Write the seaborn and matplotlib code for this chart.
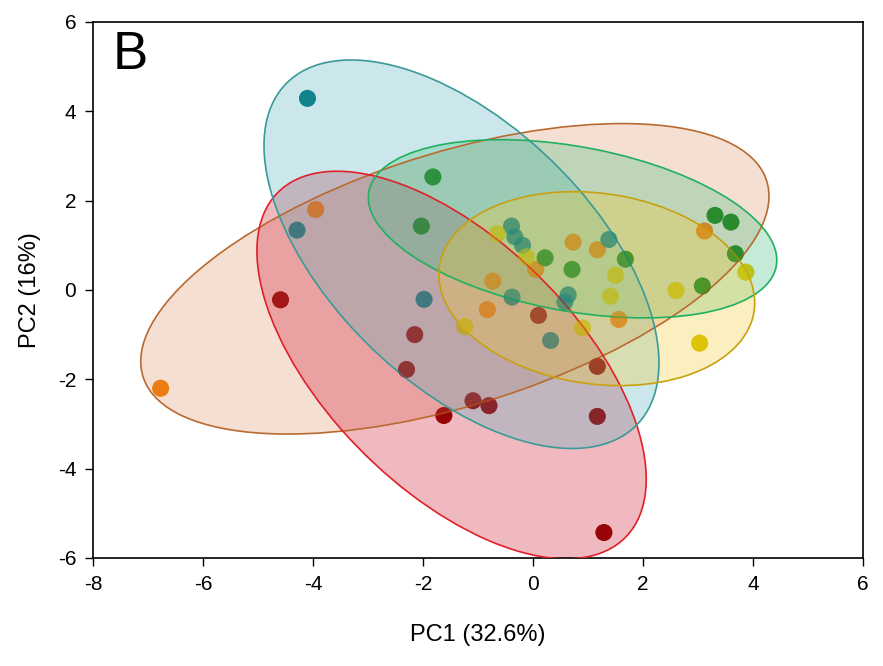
import numpy as np
import pandas as pd
import matplotlib
matplotlib.use("Agg")
import matplotlib.pyplot as plt
from matplotlib.patches import Ellipse
from matplotlib.colors import to_rgba
import seaborn as sns

# PCA scores, one list per group
red_x = [-4.59, -2.15, -2.30, -1.62, -1.09, -0.80, 1.17, 1.29, 0.10, 1.17]
red_y = [-0.22, -1.00, -1.78, -2.81, -2.48, -2.59, -2.83, -5.43, -0.57, -1.71]

orange_x = [-6.77, -3.95, 3.12, 0.73, 1.17, 0.05, -0.73, -0.83, 1.56]
orange_y = [-2.20, 1.80, 1.32, 1.07, 0.90, 0.46, 0.20, -0.44, -0.66]

teal_x = [-4.10, -4.29, -1.98, -0.39, -0.33, -0.19, 1.38, 0.64, 0.58, -0.38, 0.32]
teal_y = [4.29, 1.34, -0.21, 1.43, 1.19, 1.00, 1.13, -0.11, -0.27, -0.16, -1.13]

green_x = [-1.82, -2.03, 3.31, 3.60, 3.68, 3.08, 0.22, 0.71, 1.68]
green_y = [2.53, 1.43, 1.67, 1.52, 0.81, 0.09, 0.72, 0.46, 0.69]

yellow_x = [-0.65, -0.12, 1.50, 1.41, -1.24, 0.90, 2.60, 3.87, 3.03]
yellow_y = [1.26, 0.74, 0.33, -0.14, -0.82, -0.85, -0.01, 0.40, -1.19]

# confidence ellipses: centre, full width/height along own axes, angle (deg)
groups = ["orange", "red", "teal", "green", "yellow"]
ell_cx = [-1.42, -1.48, -1.30, 0.72, 1.16]
ell_cy = [0.25, -1.68, 0.80, 1.37, 0.03]
ell_w = [12.18, 10.05, 10.03, 7.60, 5.82]
ell_h = [5.52, 4.94, 5.16, 3.65, 4.24]
ell_ang = [22.9, -54.6, -54.5, -14.0, -13.6]

point_colors = {"red": "#8a0000", "orange": "#f07800", "teal": "#007880",
                "green": "#007a0a", "yellow": "#d8c400"}
fill_colors = {"red": "#d0182e", "orange": "#e19870", "teal": "#55b2c0",
               "green": "#40c080", "yellow": "#f5ca2d"}
edge_colors = {"red": "#e0202a", "orange": "#b86a30", "teal": "#3a9a9a",
               "green": "#20b060", "yellow": "#c8a010"}

df = pd.concat([
    pd.DataFrame({"PC1": red_x, "PC2": red_y, "group": "red"}),
    pd.DataFrame({"PC1": orange_x, "PC2": orange_y, "group": "orange"}),
    pd.DataFrame({"PC1": teal_x, "PC2": teal_y, "group": "teal"}),
    pd.DataFrame({"PC1": green_x, "PC2": green_y, "group": "green"}),
    pd.DataFrame({"PC1": yellow_x, "PC2": yellow_y, "group": "yellow"}),
], ignore_index=True)

sns.set_style("white")
plt.rcParams["font.family"] = ["Liberation Sans", "DejaVu Sans"]
plt.rcParams["axes.unicode_minus"] = False
plt.rcParams["text.color"] = "black"
plt.rcParams["axes.labelcolor"] = "black"
plt.rcParams["xtick.color"] = "black"
plt.rcParams["ytick.color"] = "black"

fig = plt.figure(figsize=(8.83, 6.66), dpi=100)
ax = fig.add_axes([0.1053, 0.1622, 0.872, 0.8048])

# points sit under the translucent ellipses, with a faint copy on top
sns.scatterplot(data=df, x="PC1", y="PC2", hue="group", palette=point_colors,
                s=150, linewidth=0, legend=False, ax=ax, zorder=1)
sns.scatterplot(data=df, x="PC1", y="PC2", hue="group", palette=point_colors,
                s=150, linewidth=0, legend=False, ax=ax, zorder=4, alpha=0.35)

for g, cx, cy, w, h, a in zip(groups, ell_cx, ell_cy, ell_w, ell_h, ell_ang):
    ax.add_patch(Ellipse((cx, cy), w, h, angle=a,
                         facecolor=to_rgba(fill_colors[g], 0.3),
                         edgecolor="none", zorder=2))
for g, cx, cy, w, h, a in zip(groups, ell_cx, ell_cy, ell_w, ell_h, ell_ang):
    ax.add_patch(Ellipse((cx, cy), w, h, angle=a, facecolor="none",
                         edgecolor=edge_colors[g], linewidth=1.2, zorder=3))

ax.set_xlim(-8, 6)
ax.set_ylim(-6, 6)
ax.set_xticks(range(-8, 7, 2))
ax.set_yticks(range(-6, 7, 2))
ax.set_xlabel("PC1 (32.6%)", fontsize=17, labelpad=22)
ax.set_ylabel("PC2 (16%)", fontsize=17, labelpad=12)
ax.tick_params(axis="both", direction="out", length=6, width=1,
               labelsize=15, color="black", bottom=True, left=True, pad=6)
for sp in ax.spines.values():
    sp.set_color("black")
    sp.set_linewidth(1.2)

ax.text(0.026, 0.985, "B", transform=ax.transAxes, fontsize=38,
        va="top", ha="left", color="black")

fig.savefig("out.png", dpi=100)
